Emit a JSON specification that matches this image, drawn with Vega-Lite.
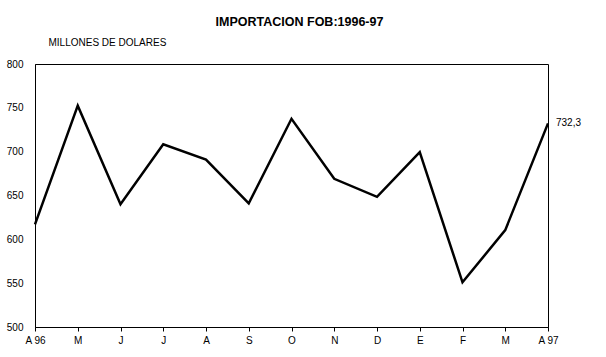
{
  "$schema": "https://vega.github.io/schema/vega-lite/v6.json",
  "autosize": "none",
  "width": 513,
  "height": 263,
  "padding": {"left": 35, "top": 64, "right": 58, "bottom": 30},
  "background": "white",
  "config": {
    "view": {"stroke": "black", "strokeWidth": 1},
    "font": "Liberation Sans"
  },
  "title": {
    "text": "IMPORTACION FOB:1996-97",
    "font": "Liberation Sans",
    "fontSize": 12.5,
    "fontWeight": "bold",
    "color": "black",
    "anchor": "middle",
    "dx": 8,
    "offset": 9
  },
  "data": {
    "values": [
      {"mes": "A 96", "valor": 617},
      {"mes": "M", "valor": 752.5},
      {"mes": "J", "valor": 640},
      {"mes": "J ", "valor": 708.5},
      {"mes": "A", "valor": 691},
      {"mes": "S", "valor": 641},
      {"mes": "O", "valor": 737.5},
      {"mes": "N", "valor": 669},
      {"mes": "D", "valor": 648.5},
      {"mes": "E", "valor": 699.5},
      {"mes": "F", "valor": 551},
      {"mes": "M ", "valor": 610.5},
      {"mes": "A 97", "valor": 732.3, "etiqueta": "732,3"}
    ]
  },
  "encoding": {
    "x": {
      "field": "mes",
      "type": "ordinal",
      "sort": null,
      "scale": {"type": "point", "padding": 0},
      "axis": {
        "title": null,
        "labelAngle": 0,
        "labelFontSize": 10,
        "labelColor": "black",
        "domainColor": "black",
        "tickColor": "black",
        "tickSize": 4,
        "labelPadding": 4,
        "grid": false
      }
    },
    "y": {
      "field": "valor",
      "type": "quantitative",
      "scale": {"domain": [500, 800], "nice": false, "zero": false},
      "axis": {
        "values": [500, 550, 600, 650, 700, 750, 800],
        "grid": false,
        "ticks": false,
        "labelPadding": 12,
        "labelFontSize": 10,
        "labelColor": "black",
        "domainColor": "black",
        "title": "MILLONES DE DOLARES",
        "titleAngle": 0,
        "titleAlign": "left",
        "titleBaseline": "middle",
        "titleX": 13,
        "titleY": -22,
        "titleFontSize": 10,
        "titleFontWeight": "normal",
        "titleColor": "black"
      }
    }
  },
  "layer": [
    {
      "mark": {"type": "line", "color": "black", "strokeWidth": 2.5}
    },
    {
      "transform": [{"filter": "datum.etiqueta != null"}],
      "mark": {"type": "text", "align": "left", "baseline": "middle", "dx": 8, "fontSize": 10, "color": "black"},
      "encoding": {"text": {"field": "etiqueta"}}
    }
  ]
}
